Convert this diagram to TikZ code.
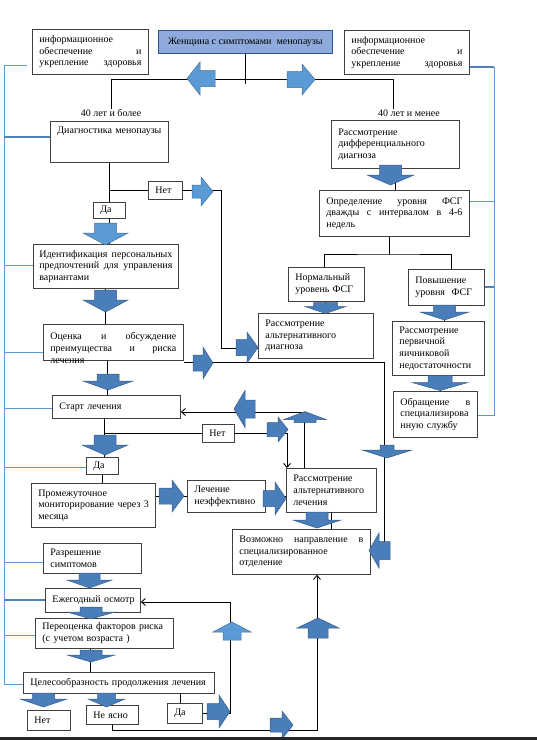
\documentclass[tikz,border=0pt]{standalone}
\usepackage{fontspec}
\setmainfont{Liberation Serif}
\usetikzlibrary{arrows.meta,backgrounds}

\definecolor{boxline}{RGB}{64,64,64}
\definecolor{womanfill}{RGB}{143,170,220}
\definecolor{womanline}{RGB}{47,82,143}
\definecolor{arrdark}{RGB}{74,126,187}
\definecolor{arrdarkline}{RGB}{56,93,138}
\definecolor{arrlight}{RGB}{91,155,213}
\definecolor{arrlightline}{RGB}{65,113,156}
\definecolor{bracket}{RGB}{91,155,213}
\definecolor{brackthick}{RGB}{79,129,189}

\newcommand{\jline}[2]{\leavevmode\hbox to #1{#2}}

\begin{document}
\begin{tikzpicture}[x=1pt, y=-1pt,
    box/.style={draw=boxline, line width=0.8pt, fill=white, anchor=north west, inner xsep=7pt, inner ysep=1pt, align=left, font=\fontsize{10}{11.7}\selectfont},
    lbl/.style={inner sep=0pt, font=\fontsize{10}{12}\selectfont},
    conn/.style={line width=0.9pt, black},
    conntip/.style={conn, -{Straight Barb[length=4pt, width=7pt]}},
    blkdark/.style={draw=arrdarkline, fill=arrdark, line width=0.5pt},
    blklight/.style={draw=arrlightline, fill=arrlight, line width=0.5pt},
    % block arrow: length, width, shaft width, head length
    pics/darr/.style n args={4}{code={
      \filldraw[blkdark] (-#1/2,-#3/2) -- (#1/2-#4,-#3/2) -- (#1/2-#4,-#2/2) -- (#1/2,0)
        -- (#1/2-#4,#2/2) -- (#1/2-#4,#3/2) -- (-#1/2,#3/2) -- cycle;}},
    pics/larr/.style n args={4}{code={
      \filldraw[blklight] (-#1/2,-#3/2) -- (#1/2-#4,-#3/2) -- (#1/2-#4,-#2/2) -- (#1/2,0)
        -- (#1/2-#4,#2/2) -- (#1/2-#4,#3/2) -- (-#1/2,#3/2) -- cycle;}},
    brk/.style={bracket, line width=0.9pt},
    brkthick/.style={brackthick, line width=2.6pt}
]
\useasboundingbox (0,0) rectangle (537,740);

% Boxes
\node[box, draw=womanline, fill=womanfill, minimum width=174pt, minimum height=23pt] (woman) at (158,30) {Женщина с симптомами\ \ менопаузы};
\node[box, text width=102pt, minimum height=45pt] (infoL) at (32,29) {информационное\\\jline{102pt}{обеспечение\hfill и}\\\jline{102pt}{укрепление\hfill здоровья}};
\node[box, text width=111pt, minimum height=44pt] (infoR) at (344,30) {информационное\\\jline{111pt}{обеспечение\hfill и}\\\jline{111pt}{укрепление\hfill здоровья}};
\node[box, text width=104pt, minimum height=41pt] (diag) at (50,121) {\mbox{Диагностика менопаузы}\\\mbox{}\\\mbox{}};
\node[box, text width=114pt, minimum height=48pt] (diff) at (331,120) {Рассмотрение\\дифференциального\\диагноза};
\node[box, text width=136pt, minimum height=46pt] (fsg) at (319,190) {\jline{136pt}{Определение\hfill уровня\hfill ФСГ}\\\jline{136pt}{дважды\hfill с\hfill интервалом\hfill в\hfill 4-6}\\недель};
\node[box, text width=62pt, minimum height=34pt] (norm) at (288,267) {Нормальный\\\mbox{уровень ФСГ}};
\node[box, text width=62pt, minimum height=36pt] (high) at (408,269) {Повышение\\\mbox{уровня\ \ ФСГ}};
\node[box, text width=101pt, minimum height=45pt] (altdiag) at (258,313) {Рассмотрение\\альтернативного\\диагноза};
\node[box, text width=78pt, minimum height=54pt] (poi) at (392,321) {Рассмотрение\\первичной\\яичниковой\\недостаточности};
\node[box, text width=70pt, minimum height=46pt] (spec) at (393,391) {\jline{70pt}{Обращение\hfill в}\\\mbox{специализирова}\\нную службу};
\node[box, inner xsep=6pt, text width=133pt, minimum height=44pt] (ident) at (33,244) {\jline{133pt}{Идентификация\hfill персональных}\\\jline{133pt}{предпочтений\hfill для\hfill управления}\\вариантами};
\node[box, text width=126pt, text depth=12pt, minimum height=36pt] (eval) at (43,324) {\jline{126pt}{Оценка\hfill и\hfill обсуждение}\\\jline{126pt}{преимущества\hfill и\hfill риска}\\лечения};
\node[box, text width=114pt, minimum height=23pt] (start) at (52,395) {\mbox{Старт лечения}};
\node[box, text width=110pt, minimum height=44pt] (mon) at (31,483) {Промежуточное\\\mbox{мониторирование через 3}\\месяца};
\node[box, text width=64pt, minimum height=32pt] (ineff) at (187,480) {Лечение\\\mbox{неэффективно}};
\node[box, text width=76pt, minimum height=44pt] (alttr) at (286,468) {Рассмотрение\\альтернативного\\лечения};
\node[box, text width=124pt, minimum height=45pt] (refer) at (232,529) {\jline{124pt}{Возможно\hfill направление\hfill в}\\специализированное\\отделение};
\node[box, text width=84pt, minimum height=30pt] (resol) at (43,543) {Разрешение\\симптомов};
\node[box, text width=81pt, minimum height=24pt] (annual) at (45,588) {\mbox{Ежегодный осмотр}};
\node[box, text width=124pt, minimum height=30pt] (risk) at (35,618) {\mbox{Переоценка факторов риска}\\\mbox{(с учетом возраста )}};
\node[box, text width=177pt, minimum height=21pt] (cont) at (23,672) {\mbox{Целесообразность продолжения лечения}};

% Yes / no boxes
\node[box, text width=20pt, minimum height=18pt] (no1) at (148,181) {Нет};
\node[box, text width=18pt, minimum height=16pt] (yes1) at (93,202) {Да};
\node[box, text width=18pt, minimum height=18pt] (no2) at (202,424) {Нет};
\node[box, text width=18pt, minimum height=17pt] (yes2) at (86,457) {Да};
\node[box, text width=29pt, minimum height=20pt] (noB) at (27,710) {Нет};
\node[box, text width=38pt, minimum height=19pt] (unclear) at (86,705) {\mbox{Не ясно}};
\node[box, text width=21pt, minimum height=20pt] (yesB) at (167,703) {Да};

% Age labels
\node[lbl] (lblL) at (111,113) {40 лет и более};
\node[lbl] (lblR) at (409,113) {40 лет и менее};

% Block arrows, top
\pic[rotate=180] at (201,78.5) {larr={28}{33}{16}{13}};
\pic at (301,79.5) {larr={28}{31}{16}{13}};

% Block arrows, right column
\pic[rotate=270] at (390.5,175) {darr={20}{47}{22}{10}};
\pic[rotate=270] at (325.5,308) {darr={11}{41}{24}{7}};
\pic[rotate=270] at (444.5,312.5) {darr={15}{49}{22}{8}};
\pic[rotate=270] at (440,383) {darr={15}{56}{24}{8}};

% Block arrows, left column
\pic at (202.5,191.5) {larr={21}{29}{13}{12}};
\pic at (247,347.5) {darr={22}{31}{16}{11}};
\pic[rotate=270] at (105.5,234) {larr={22}{45}{22}{12}};
\pic[rotate=270] at (105.5,301) {darr={22}{45}{22}{12}};
\pic at (203,363) {darr={20}{32}{16}{10}};
\pic[rotate=270] at (108,382) {darr={16}{50}{22}{9}};
\pic[rotate=180] at (244.5,409) {darr={21}{37}{18}{11}};
\pic[rotate=90] at (305,417) {darr={11}{42}{22}{8}};
\pic at (277.5,429.5) {darr={21}{25}{14}{10}};
\pic[rotate=270] at (105,445) {darr={20}{46}{22}{10}};
\pic at (171.5,496) {darr={25}{32}{16}{12}};
\pic at (274.5,498.5) {darr={23}{33}{16}{11}};
\pic[rotate=270] at (317,520) {darr={16}{48}{22}{8}};
\pic[rotate=270] at (387,451.5) {darr={13}{50}{14}{8}};
\pic[rotate=180] at (379.5,550.5) {darr={21}{35}{18}{10}};

% Block arrows, bottom
\pic[rotate=270] at (89.5,580.5) {darr={15}{45}{21}{8}};
\pic[rotate=270] at (91,613) {darr={12}{48}{22}{7}};
\pic[rotate=270] at (91,656) {darr={12}{48}{22}{7}};
\pic[rotate=270] at (43.5,700) {darr={14}{47}{22}{8}};
\pic[rotate=270] at (106.5,700) {darr={14}{37}{18}{8}};
\pic at (218.5,711.5) {darr={23}{33}{16}{11}};
\pic[rotate=90] at (232,631) {larr={18}{38}{18}{10}};
\pic[rotate=90] at (318,628) {darr={20}{42}{20}{10}};
\pic at (281.5,725) {darr={23}{28}{14}{11}};

\begin{scope}[on background layer]
% Split by age
\coordinate (sL) at (111,79);
\coordinate (sR) at (393,79);
\draw[conn] (woman.south) -- ++(0,30);
\draw[conn] (lblL.north -| sL) -- (sL) -- (sR) -- (lblR.north -| sR);

% Right column
\draw[conn] (diff.south) -- (diff.south |- fsg.north);
\coordinate (fb) at (389,254);
\draw[conn] (fsg.south -| fb) -- (fb);
\draw[conn] (norm.north -| 324,0) |- (fb) -| (high.north -| 451,0);
\draw[conn] (norm.south -| 325,0) -- (altdiag.north -| 325,0);
\draw[conn] (high.south -| 444,0) -- (poi.north -| 444,0);
\draw[conn] (poi.south -| 440,0) -- (spec.north -| 440,0);

% Left column
\draw[conn] (diag.south) -- (yes1.north);
\draw[conn] (yes1.north |- no1.west) -- (no1.west);
\coordinate (nb) at (221,348);
\draw[conn] (no1.east) -| (nb) -- (nb -| altdiag.west);
\draw[conn] (yes1.south) -- (yes1.south |- ident.north);
\draw[conn] (ident.south) -- (ident.south |- eval.north);
\coordinate (eb) at (384,362);
\draw[conn] (eb -| eval.east) -- (eb) -- (eb |- refer.east);
\coordinate (colE) at (107,0);
\draw[conn] (eval.south -| colE) -- (start.north -| colE);
\coordinate (colS) at (104,0);
\draw[conn] (start.south -| colS) -- (yes2.north -| colS);
\draw[conn] (colS |- no2.west) -- (no2.west);
\draw[conntip] (no2.east) -| ([xshift=1pt]alttr.north west);
\coordinate (sb) at (304,412);
\draw[conntip] (alttr.north -| sb) -- (sb) -- (sb -| start.east);
\draw[conn] (yes2.south) -- (yes2.south |- mon.north);
\draw[conn] (ineff.west -| mon.east) -- (ineff.west);
\draw[conn] (ineff.east) -- (ineff.east -| alttr.west);
\draw[conn] (alttr.south) -- (alttr.south |- refer.north);

% Bottom
\coordinate (colB) at (90,0);
\draw[conn] (risk.south -| colB) -- (cont.north -| colB);
\coordinate (colY) at (180,0);
\draw[conn] (cont.south -| colY) -- (yesB.north -| colY);
\coordinate (yb) at (230,602);
\draw[conntip] (yesB.east) -| (yb) -- (yb -| annual.east);
\coordinate (ub) at (317,730);
\draw[conntip] (unclear.south) |- (ub) -- (ub |- refer.south);

% Blue brackets
\draw[brk] (27,65) -- (4,65) -- (4,684) -- (cont.west |- 0,684);
\foreach \n/\y in {ident/265, eval/352, start/408, yes2/467, resol/562, risk/635}
  \draw[brk] (4,\y) -- (\n.west |- 4,\y);
\foreach \n/\y in {diag/137, annual/600}
  \draw[brkthick] (4,\y) -- (\n.west |- 4,\y);
\draw[brkthick] (infoR.east |- 0,67) -- (494,67);
\draw[brk] (494,67) -- (494,416);
\draw[brk] (fsg.east |- 0,201) -- (494,201);
\draw[brkthick] (high.east |- 0,287) -- (494,287);
\draw[brk] (spec.east |- 0,415) -- (494,415);
\end{scope}

\fill[black!85] (0,737) rectangle (537,740);

\end{tikzpicture}
\end{document}
